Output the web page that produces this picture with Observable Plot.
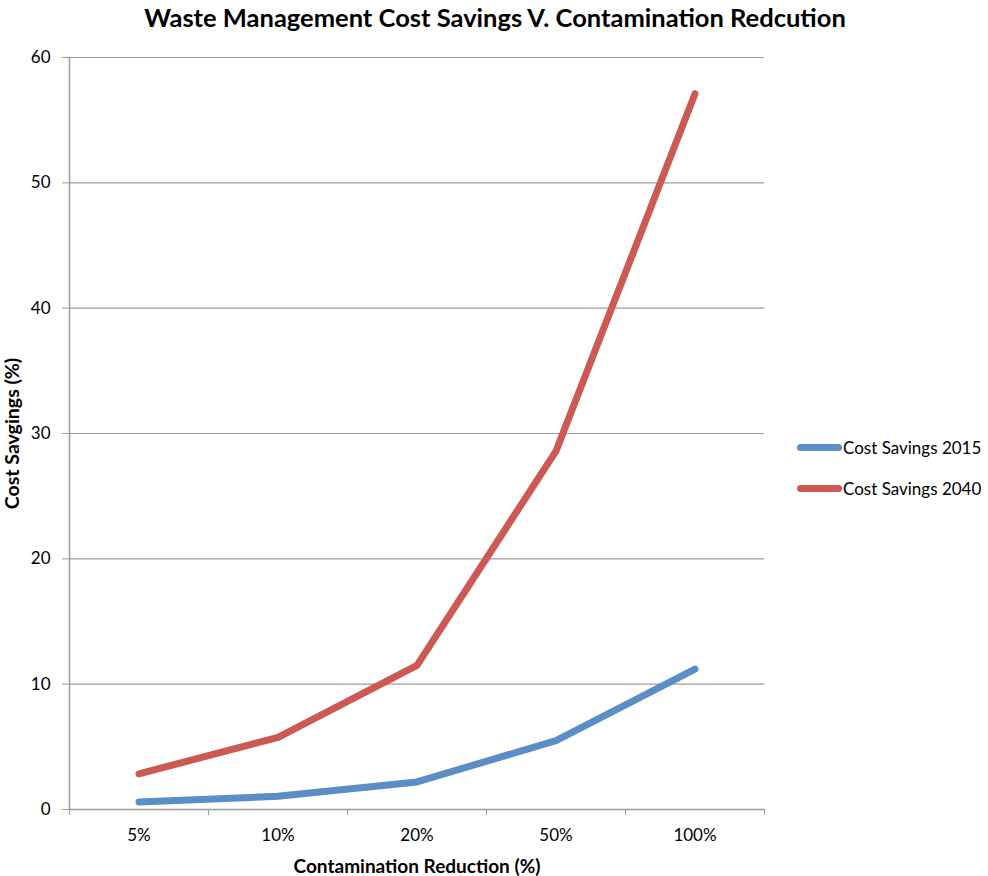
<!DOCTYPE html>
<html>
<head>
<meta charset="utf-8">
<script src="https://cdn.jsdelivr.net/npm/d3@7"></script>
<script src="https://cdn.jsdelivr.net/npm/@observablehq/plot@0.6"></script>
<style>
  html, body { margin: 0; padding: 0; background: #fff; }
  #wrap { position: relative; width: 988px; height: 876px; font-family: Lato, "Open Sans", sans-serif; }
  #legend { position: absolute; left: 797px; top: 427px; font-size: 17px; color: #000; }
  .item { display: flex; align-items: center; height: 41px; }
  .swatch { width: 45px; height: 7px; border-radius: 4px; margin-right: 1px; }
</style>
</head>
<body>
<div id="wrap"><div id="legend"></div></div>
<script>
const title = "Waste Management Cost Savings V. Contamination Redcution";
const xLabel = "Contamination Reduction (%)";
const yLabel = "Cost Savgings (%)";
const categories = ["5%", "10%", "20%", "50%", "100%"];
const savings2015 = [0.6, 1.05, 2.2, 5.5, 11.2];
const savings2040 = [2.85, 5.75, 11.5, 28.6, 57.1];
const seriesNames = ["Cost Savings 2015", "Cost Savings 2040"];
const seriesColors = ["#5a8ec6", "#cc5953"];
const yTicks = [0, 10, 20, 30, 40, 50, 60];

const rows = [];
[savings2015, savings2040].forEach((vals, s) => {
  vals.forEach((v, i) => rows.push({series: seriesNames[s], i, cat: categories[i], value: v}));
});
const idx = categories.map((_, i) => i);
const bounds = categories.map((_, i) => i - 0.5).concat([categories.length - 0.5]);

const chart = Plot.plot({
  width: 988,
  height: 876,
  marginLeft: 69,
  marginRight: 224,
  marginTop: 57,
  marginBottom: 67,
  style: {fontFamily: "Lato, 'Open Sans', sans-serif", fontSize: "17px", color: "#000", background: "#fff"},
  x: {type: "linear", domain: [-0.5, categories.length - 0.5]},
  y: {domain: [0, 60]},
  color: {domain: seriesNames, range: seriesColors},
  marks: [
    Plot.gridY(yTicks.filter(d => d > 0), {stroke: "#9c9c9c", strokeOpacity: 1, strokeWidth: 1.2}),
    Plot.ruleX([bounds[0]], {stroke: "#9c9c9c", strokeWidth: 1.5}),
    Plot.ruleY([0], {stroke: "#9c9c9c", strokeWidth: 1.5}),
    Plot.axisY({ticks: yTicks, tickSize: 7, tickPadding: 12, stroke: "#9c9c9c", fill: "#000", fontSize: 17, label: null}),
    Plot.axisX({ticks: bounds, tickSize: 6, tickFormat: () => "", stroke: "#9c9c9c", label: null}),
    Plot.axisX({ticks: idx, tickSize: 0, tickPadding: 19, tickFormat: i => categories[i], fill: "#000", fontSize: 17, label: null}),
    Plot.line(rows, {x: "i", y: "value", stroke: "series", z: "series", strokeWidth: 7, strokeLinejoin: "round", strokeLinecap: "round"}),
    Plot.text([title], {frameAnchor: "top", dx: 78, dy: -39, lineAnchor: "middle", textAnchor: "middle", fontSize: 25.5, fontWeight: "bold", fill: "#000"}),
    Plot.text([xLabel], {frameAnchor: "bottom", dy: 57, lineAnchor: "middle", textAnchor: "middle", fontSize: 19, fontWeight: "bold", fill: "#000"}),
    Plot.text([yLabel], {frameAnchor: "left", dx: -57, rotate: -90, lineAnchor: "middle", textAnchor: "middle", fontSize: 19.5, fontWeight: "bold", fill: "#000"})
  ]
});
const wrap = document.getElementById("wrap");
wrap.insertBefore(chart, wrap.firstChild);

const legend = document.getElementById("legend");
seriesNames.forEach((name, s) => {
  const item = document.createElement("div");
  item.className = "item";
  const sw = document.createElement("div");
  sw.className = "swatch";
  sw.style.background = seriesColors[s];
  const t = document.createElement("span");
  t.textContent = name;
  item.appendChild(sw);
  item.appendChild(t);
  legend.appendChild(item);
});
</script>
</body>
</html>
